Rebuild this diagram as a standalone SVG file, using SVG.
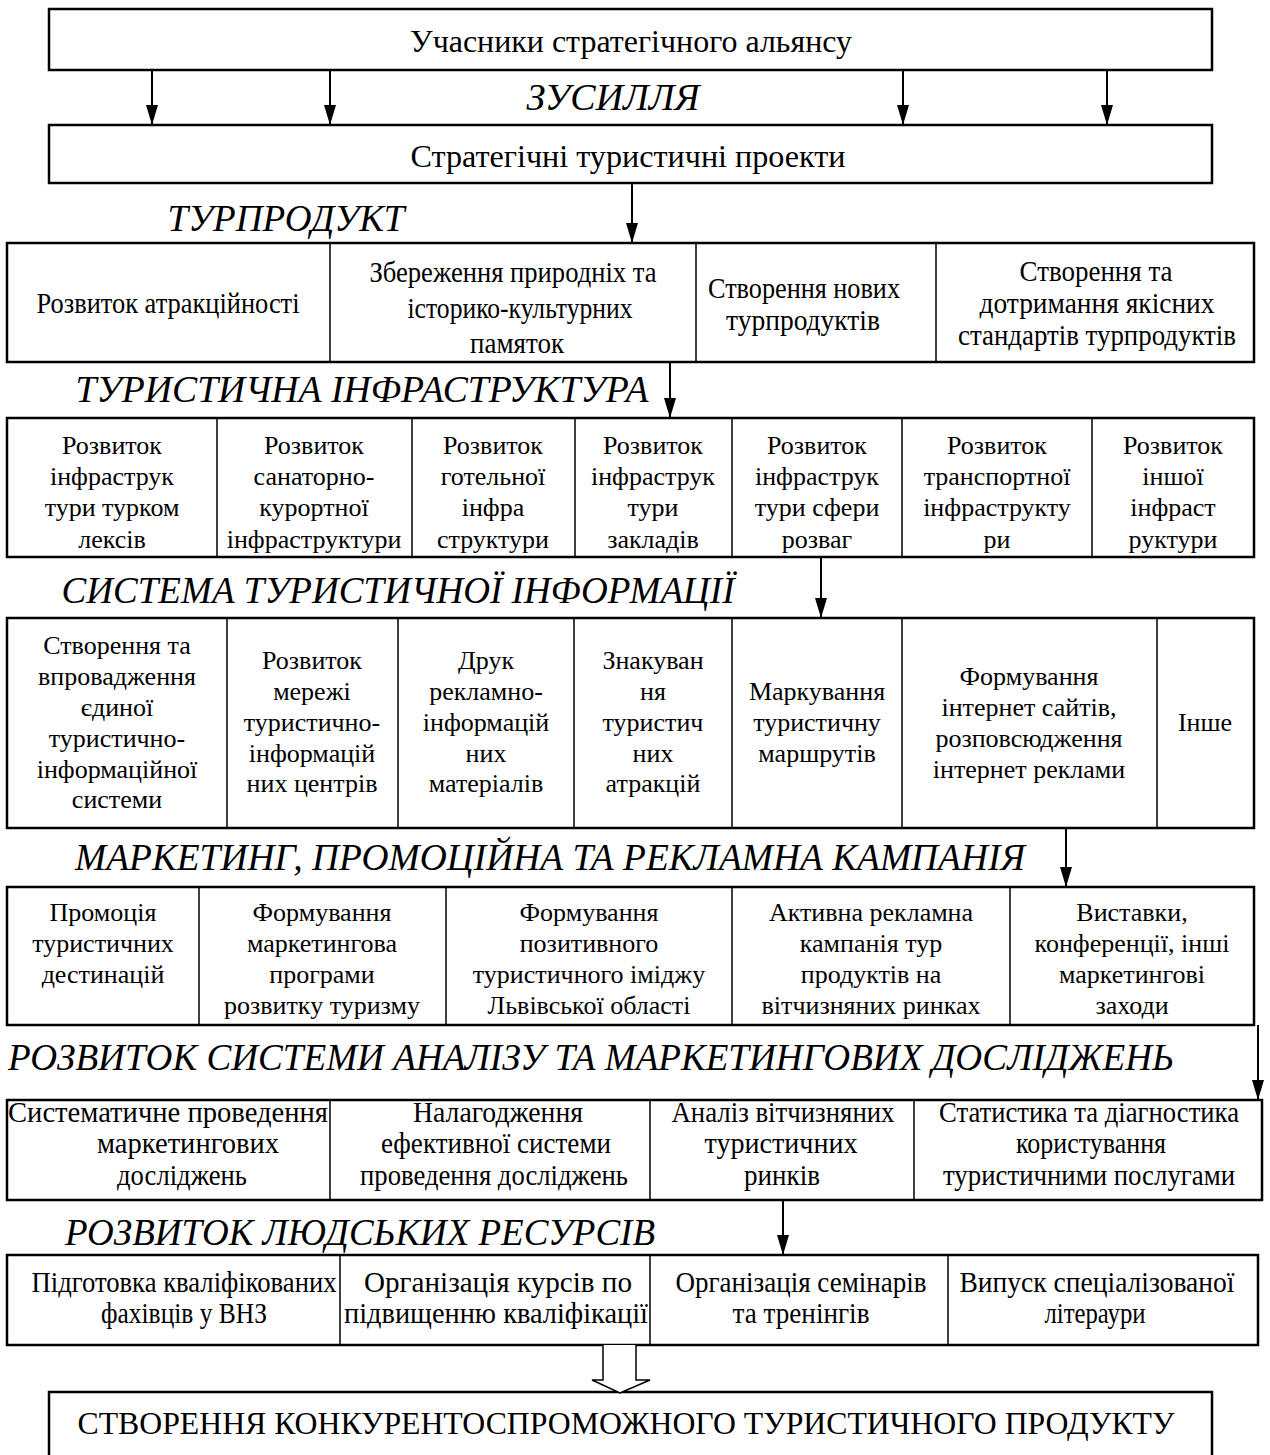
<svg xmlns="http://www.w3.org/2000/svg" width="1270" height="1455" viewBox="0 0 1270 1455">
<style>
.bg{fill:#fff}
.box{fill:none;stroke:#000;stroke-width:2.5}
.dv{stroke:#000;stroke-width:1.5}
.ar{stroke:#000;stroke-width:2;fill:none}
text{font-family:"Liberation Serif","Times New Roman",serif;fill:#000;text-anchor:middle}
.t{font-size:26px}
.c{font-size:29px}
.b{font-size:31px}
.h{font-size:38px;font-style:italic}
</style>
<defs>
<marker id="ah" viewBox="0 0 20 12" refX="20" refY="6" markerWidth="20" markerHeight="12" markerUnits="userSpaceOnUse" orient="auto">
<path d="M0,0 L20,6 L0,12 z" fill="#000"/>
</marker>
</defs>
<rect class="bg" x="0" y="0" width="1270" height="1455"/>

<g id="n-participants">
<rect class="box" x="49" y="9" width="1163" height="61"/>
<text class="b" x="631" y="52" textLength="442" lengthAdjust="spacingAndGlyphs">Учасники стратегічного альянсу</text>
</g>
<text class="h" x="613" y="110" textLength="173" lengthAdjust="spacingAndGlyphs">ЗУСИЛЛЯ</text>
<g id="n-projects">
<rect class="box" x="49" y="125" width="1163" height="58"/>
<text class="b" x="628" y="167" textLength="435" lengthAdjust="spacingAndGlyphs">Стратегічні туристичні проекти</text>
</g>
<text class="h" x="286" y="231" textLength="237" lengthAdjust="spacingAndGlyphs">ТУРПРОДУКТ</text>

<g id="n-turproduct">
<rect class="box" x="7" y="243" width="1247" height="119"/>
<line class="dv" x1="330" y1="243" x2="330" y2="362"/>
<line class="dv" x1="696" y1="243" x2="696" y2="362"/>
<line class="dv" x1="936" y1="243" x2="936" y2="362"/>
<text class="c" x="168" y="313" textLength="263" lengthAdjust="spacingAndGlyphs">Розвиток атракційності</text>
<text class="c" x="513" y="282" textLength="287" lengthAdjust="spacingAndGlyphs">Збереження природніх та</text>
<text class="c" x="520" y="318" textLength="225" lengthAdjust="spacingAndGlyphs">історико-культурних</text>
<text class="c" x="517" y="353" textLength="94" lengthAdjust="spacingAndGlyphs">памяток</text>
<text class="c" x="804" y="298" textLength="192" lengthAdjust="spacingAndGlyphs">Створення нових</text>
<text class="c" x="803" y="330" textLength="154" lengthAdjust="spacingAndGlyphs">турпродуктів</text>
<text class="c" x="1096" y="281" textLength="153" lengthAdjust="spacingAndGlyphs">Створення та</text>
<text class="c" x="1097" y="313" textLength="235" lengthAdjust="spacingAndGlyphs">дотримання якісних</text>
<text class="c" x="1097" y="345" textLength="278" lengthAdjust="spacingAndGlyphs">стандартів турпродуктів</text>
</g>
<text class="h" x="362" y="402" textLength="573" lengthAdjust="spacingAndGlyphs">ТУРИСТИЧНА ІНФРАСТРУКТУРА</text>

<g id="n-infra">
<rect class="box" x="7" y="418" width="1247" height="139"/>
<line class="dv" x1="217" y1="418" x2="217" y2="557"/>
<line class="dv" x1="412" y1="418" x2="412" y2="557"/>
<line class="dv" x1="575" y1="418" x2="575" y2="557"/>
<line class="dv" x1="732" y1="418" x2="732" y2="557"/>
<line class="dv" x1="902" y1="418" x2="902" y2="557"/>
<line class="dv" x1="1092" y1="418" x2="1092" y2="557"/>
<text class="t" x="112" y="454">Розвиток</text>
<text class="t" x="112" y="485">інфраструк</text>
<text class="t" x="112" y="516">тури турком</text>
<text class="t" x="112" y="548">лексів</text>
<text class="t" x="314" y="454">Розвиток</text>
<text class="t" x="314" y="485">санаторно-</text>
<text class="t" x="314" y="516">курортної</text>
<text class="t" x="314" y="548">інфраструктури</text>
<text class="t" x="493" y="454">Розвиток</text>
<text class="t" x="493" y="485">готельної</text>
<text class="t" x="493" y="516">інфра</text>
<text class="t" x="493" y="548">структури</text>
<text class="t" x="653" y="454">Розвиток</text>
<text class="t" x="653" y="485">інфраструк</text>
<text class="t" x="653" y="516">тури</text>
<text class="t" x="653" y="548">закладів</text>
<text class="t" x="817" y="454">Розвиток</text>
<text class="t" x="817" y="485">інфраструк</text>
<text class="t" x="817" y="516">тури сфери</text>
<text class="t" x="817" y="548">розваг</text>
<text class="t" x="997" y="454">Розвиток</text>
<text class="t" x="997" y="485">транспортної</text>
<text class="t" x="997" y="516">інфраструкту</text>
<text class="t" x="997" y="548">ри</text>
<text class="t" x="1173" y="454">Розвиток</text>
<text class="t" x="1173" y="485">іншої</text>
<text class="t" x="1173" y="516">інфраст</text>
<text class="t" x="1173" y="548">руктури</text>
</g>
<text class="h" x="398" y="603" textLength="673" lengthAdjust="spacingAndGlyphs">СИСТЕМА ТУРИСТИЧНОЇ ІНФОРМАЦІЇ</text>

<g id="n-info">
<rect class="box" x="7" y="618" width="1247" height="210"/>
<line class="dv" x1="227" y1="618" x2="227" y2="828"/>
<line class="dv" x1="398" y1="618" x2="398" y2="828"/>
<line class="dv" x1="574" y1="618" x2="574" y2="828"/>
<line class="dv" x1="732" y1="618" x2="732" y2="828"/>
<line class="dv" x1="902" y1="618" x2="902" y2="828"/>
<line class="dv" x1="1157" y1="618" x2="1157" y2="828"/>
<text class="t" x="117" y="654">Створення та</text>
<text class="t" x="117" y="685">впровадження</text>
<text class="t" x="117" y="716">єдиної</text>
<text class="t" x="117" y="747">туристично-</text>
<text class="t" x="117" y="778">інформаційної</text>
<text class="t" x="117" y="808">системи</text>
<text class="t" x="312" y="669">Розвиток</text>
<text class="t" x="312" y="700">мережі</text>
<text class="t" x="312" y="731">туристично-</text>
<text class="t" x="312" y="762">інформацій</text>
<text class="t" x="312" y="792">них центрів</text>
<text class="t" x="486" y="669">Друк</text>
<text class="t" x="486" y="700">рекламно-</text>
<text class="t" x="486" y="731">інформацій</text>
<text class="t" x="486" y="762">них</text>
<text class="t" x="486" y="792">матеріалів</text>
<text class="t" x="653" y="669">Знакуван</text>
<text class="t" x="653" y="700">ня</text>
<text class="t" x="653" y="731">туристич</text>
<text class="t" x="653" y="762">них</text>
<text class="t" x="653" y="792">атракцій</text>
<text class="t" x="817" y="700">Маркування</text>
<text class="t" x="817" y="731">туристичну</text>
<text class="t" x="817" y="762">маршрутів</text>
<text class="t" x="1029" y="685">Формування</text>
<text class="t" x="1029" y="716">інтернет сайтів,</text>
<text class="t" x="1029" y="747">розповсюдження</text>
<text class="t" x="1029" y="778">інтернет реклами</text>
<text class="t" x="1205" y="731">Інше</text>
</g>
<text class="h" x="550" y="870" textLength="950" lengthAdjust="spacingAndGlyphs">МАРКЕТИНГ, ПРОМОЦІЙНА ТА РЕКЛАМНА КАМПАНІЯ</text>

<g id="n-marketing">
<rect class="box" x="7" y="887" width="1247" height="138"/>
<line class="dv" x1="199" y1="887" x2="199" y2="1025"/>
<line class="dv" x1="446" y1="887" x2="446" y2="1025"/>
<line class="dv" x1="732" y1="887" x2="732" y2="1025"/>
<line class="dv" x1="1010" y1="887" x2="1010" y2="1025"/>
<text class="t" x="103" y="921">Промоція</text>
<text class="t" x="103" y="952">туристичних</text>
<text class="t" x="103" y="983">дестинацій</text>
<text class="t" x="322" y="921">Формування</text>
<text class="t" x="322" y="952">маркетингова</text>
<text class="t" x="322" y="983">програми</text>
<text class="t" x="322" y="1014">розвитку туризму</text>
<text class="t" x="589" y="921">Формування</text>
<text class="t" x="589" y="952">позитивного</text>
<text class="t" x="589" y="983">туристичного іміджу</text>
<text class="t" x="589" y="1014">Львівської області</text>
<text class="t" x="871" y="921">Активна рекламна</text>
<text class="t" x="871" y="952">кампанія тур</text>
<text class="t" x="871" y="983">продуктів на</text>
<text class="t" x="871" y="1014">вітчизняних ринках</text>
<text class="t" x="1132" y="921">Виставки,</text>
<text class="t" x="1132" y="952">конференції, інші</text>
<text class="t" x="1132" y="983">маркетингові</text>
<text class="t" x="1132" y="1014">заходи</text>
</g>
<text class="h" x="591" y="1070" textLength="1166" lengthAdjust="spacingAndGlyphs">РОЗВИТОК СИСТЕМИ АНАЛІЗУ ТА МАРКЕТИНГОВИХ ДОСЛІДЖЕНЬ</text>

<g id="n-analysis">
<rect class="box" x="7" y="1100" width="1255" height="100"/>
<line class="dv" x1="330" y1="1100" x2="330" y2="1200"/>
<line class="dv" x1="650" y1="1100" x2="650" y2="1200"/>
<line class="dv" x1="914" y1="1100" x2="914" y2="1200"/>
<text class="c" x="168" y="1122" textLength="320" lengthAdjust="spacingAndGlyphs">Систематичне проведення</text>
<text class="c" x="188" y="1153" textLength="182" lengthAdjust="spacingAndGlyphs">маркетингових</text>
<text class="c" x="182" y="1185" textLength="130" lengthAdjust="spacingAndGlyphs">досліджень</text>
<text class="c" x="498" y="1122" textLength="170" lengthAdjust="spacingAndGlyphs">Налагодження</text>
<text class="c" x="496" y="1153" textLength="230" lengthAdjust="spacingAndGlyphs">ефективної системи</text>
<text class="c" x="494" y="1185" textLength="268" lengthAdjust="spacingAndGlyphs">проведення досліджень</text>
<text class="c" x="783" y="1122" textLength="223" lengthAdjust="spacingAndGlyphs">Аналіз вітчизняних</text>
<text class="c" x="781" y="1153" textLength="153" lengthAdjust="spacingAndGlyphs">туристичних</text>
<text class="c" x="782" y="1185" textLength="76" lengthAdjust="spacingAndGlyphs">ринків</text>
<text class="c" x="1089" y="1122" textLength="300" lengthAdjust="spacingAndGlyphs">Статистика та діагностика</text>
<text class="c" x="1091" y="1153" textLength="150" lengthAdjust="spacingAndGlyphs">користування</text>
<text class="c" x="1089" y="1185" textLength="292" lengthAdjust="spacingAndGlyphs">туристичними послугами</text>
</g>
<text class="h" x="360" y="1245" textLength="590" lengthAdjust="spacingAndGlyphs">РОЗВИТОК ЛЮДСЬКИХ РЕСУРСІВ</text>

<g id="n-hr">
<rect class="box" x="7" y="1255" width="1251" height="90"/>
<line class="dv" x1="340" y1="1255" x2="340" y2="1345"/>
<line class="dv" x1="650" y1="1255" x2="650" y2="1345"/>
<line class="dv" x1="948" y1="1255" x2="948" y2="1345"/>
<text class="c" x="184" y="1292" textLength="305" lengthAdjust="spacingAndGlyphs">Підготовка кваліфікованих</text>
<text class="c" x="184" y="1323" textLength="166" lengthAdjust="spacingAndGlyphs">фахівців у ВНЗ</text>
<text class="c" x="498" y="1292" textLength="268" lengthAdjust="spacingAndGlyphs">Організація курсів по</text>
<text class="c" x="496" y="1323" textLength="304" lengthAdjust="spacingAndGlyphs">підвищенню кваліфікації</text>
<text class="c" x="801" y="1292" textLength="251" lengthAdjust="spacingAndGlyphs">Організація семінарів</text>
<text class="c" x="801" y="1323" textLength="137" lengthAdjust="spacingAndGlyphs">та тренінгів</text>
<text class="c" x="1097" y="1292" textLength="275" lengthAdjust="spacingAndGlyphs">Випуск спеціалізованої</text>
<text class="c" x="1095" y="1323" textLength="101" lengthAdjust="spacingAndGlyphs">літераури</text>
</g>

<g id="n-result">
<rect class="box" x="49" y="1392" width="1163" height="70"/>
<text class="b" x="626" y="1434" textLength="1097" lengthAdjust="spacingAndGlyphs">СТВОРЕННЯ КОНКУРЕНТОСПРОМОЖНОГО ТУРИСТИЧНОГО ПРОДУКТУ</text>
</g>

<g id="connectors">
<line class="ar" x1="152" y1="70" x2="152" y2="125" marker-end="url(#ah)"/>
<line class="ar" x1="330" y1="70" x2="330" y2="125" marker-end="url(#ah)"/>
<line class="ar" x1="903" y1="70" x2="903" y2="125" marker-end="url(#ah)"/>
<line class="ar" x1="1107" y1="70" x2="1107" y2="125" marker-end="url(#ah)"/>
<line class="ar" x1="632" y1="183" x2="632" y2="243" marker-end="url(#ah)"/>
<line class="ar" x1="670" y1="362" x2="670" y2="418" marker-end="url(#ah)"/>
<line class="ar" x1="821" y1="557" x2="821" y2="618" marker-end="url(#ah)"/>
<line class="ar" x1="1066" y1="828" x2="1066" y2="887" marker-end="url(#ah)"/>
<line class="ar" x1="1258" y1="1025" x2="1258" y2="1100" marker-end="url(#ah)"/>
<line class="ar" x1="783" y1="1200" x2="783" y2="1255" marker-end="url(#ah)"/>
<path d="M603,1345 L603,1380 L592,1380 L620,1393 L650,1380 L636,1380 L636,1345" fill="#fff" stroke="#000" stroke-width="1.5"/>
</g>
</svg>
